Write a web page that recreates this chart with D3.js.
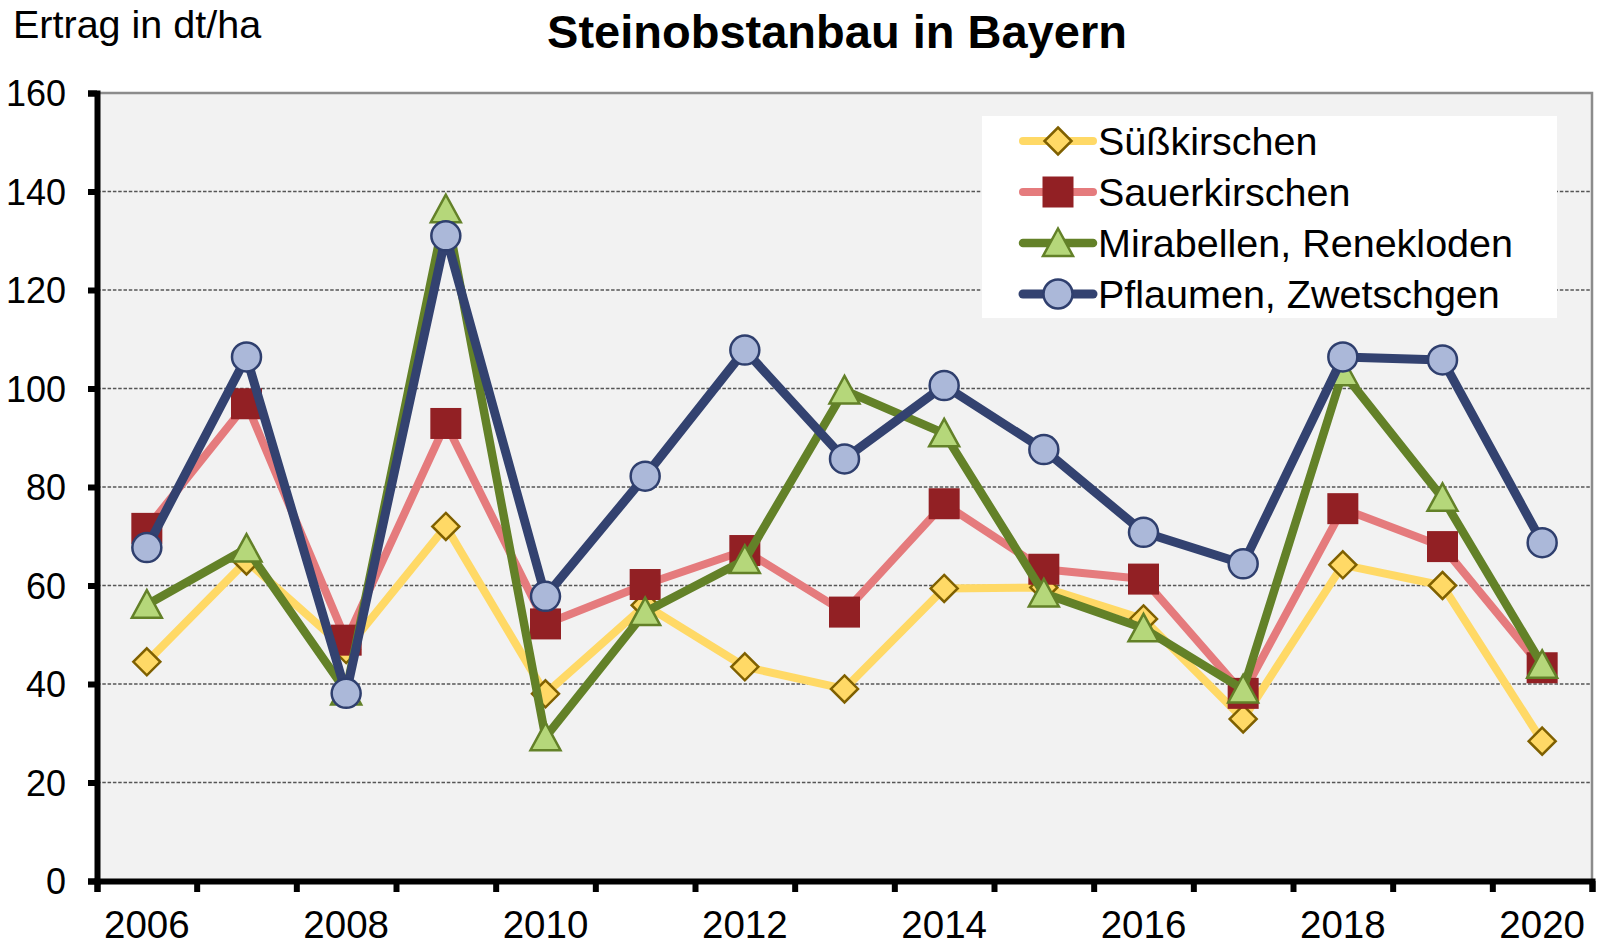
<!DOCTYPE html>
<html>
<head>
<meta charset="utf-8">
<script src="https://cdn.jsdelivr.net/npm/d3@7"></script>
<style>
    body { margin: 0; background: #fff; }
    text { font-family: "Liberation Sans", Arial, sans-serif; fill: #000; }
</style>
</head>
<body>
<div id="chart"></div>
<script>
// values (dt/ha)
const years = d3.range(2006, 2021);

const series = [
    {
        name: 'Süßkirschen',
        line: '#FFD966', fill: '#FFD966', stroke: '#7F6000', shape: 'diamond', lineWidth: 8,
        values: [44.5, 65, 47, 72, 38, 56, 43.5, 39, 59.4, 59.6, 53.2, 32.9, 64.2, 60, 28.4]
    },
    {
        name: 'Sauerkirschen',
        line: '#E57B7D', fill: '#922024', stroke: '#922024', shape: 'square', lineWidth: 8,
        values: [71.6, 96.9, 48.9, 92.9, 52.2, 60.2, 67.1, 54.6, 76.6, 63.3, 61.3, 38.1, 75.6, 67.9, 43.3]
    },
    {
        name: 'Mirabellen, Renekloden',
        line: '#638128', fill: '#B5D77A', stroke: '#638128', shape: 'triangle', lineWidth: 8.5,
        values: [56.1, 67.5, 38.5, 136.4, 29.2, 54.6, 65.2, 99.6, 90.9, 58.4, 51.3, 38.9, 103.3, 77.8, 43.9]
    },
    {
        name: 'Pflaumen, Zwetschgen',
        line: '#334270', fill: '#ABB8D9', stroke: '#2F3F6E', shape: 'circle', lineWidth: 9,
        values: [67.7, 106.4, 38.1, 131, 57.8, 82.2, 107.8, 85.7, 100.6, 87.6, 70.8, 64.4, 106.4, 105.8, 68.7]
    }
];

const margin = { top: 93, right: 7, bottom: 66, left: 97 };
const width = 1599 - margin.left - margin.right,
    height = 947 - margin.top - margin.bottom;

const root = d3.select('#chart').append('svg')
    .attr('width', 1599)
    .attr('height', 947);

const svg = root.append('g')
    .attr('transform', 'translate(' + margin.left + ',' + margin.top + ')');

// scales
const x = d3.scaleBand().domain(years).range([0, width]);
const xEdge = d3.scaleLinear().domain([0, years.length]).range([0, width]);
const y = d3.scaleLinear().domain([0, 160]).range([height, 0]);
const cx = d => x(d) + x.bandwidth() / 2;

// plot area
svg.append('rect')
    .attr('width', width)
    .attr('height', height)
    .style('fill', '#F2F2F2');

// gridlines
svg.selectAll('.grid')
    .data(d3.range(20, 160, 20))
    .enter()
    .append('line')
    .attr('x1', 0)
    .attr('x2', width)
    .attr('y1', d => y(d))
    .attr('y2', d => y(d))
    .style('stroke', '#555')
    .style('stroke-width', 1.3)
    .style('stroke-dasharray', '3.5,1.8');

// top / right border
svg.append('path')
    .attr('d', 'M0,' + y(160) + 'H' + width + 'V' + height)
    .style('fill', 'none')
    .style('stroke', '#8C8C8C')
    .style('stroke-width', 2.5);

// symbols
function drawMarker(sel, s) {
    if (s.shape === 'circle') {
        sel.append('circle').attr('r', 14.5);
    } else if (s.shape === 'square') {
        sel.append('rect').attr('x', -15.5).attr('y', -15.5).attr('width', 31).attr('height', 31);
    } else if (s.shape === 'diamond') {
        sel.append('path').attr('d', 'M0,-13.5L13.5,0L0,13.5L-13.5,0Z');
    } else {
        sel.append('path').attr('d', 'M0,-14.5L15,13L-15,13Z');
    }
    sel.selectAll('*')
        .style('fill', s.fill)
        .style('stroke', s.stroke)
        .style('stroke-width', s.shape === 'square' ? 0 : 2.5)
        .style('stroke-linejoin', 'miter');
}

const line = d3.line()
    .x((d, i) => cx(years[i]))
    .y(d => y(d));

series.forEach(function (s) {
    svg.append('path')
        .datum(s.values)
        .attr('d', line)
        .style('fill', 'none')
        .style('stroke', s.line)
        .style('stroke-width', s.lineWidth)
        .style('stroke-linejoin', 'round');

    svg.selectAll('.m')
        .data(s.values)
        .enter()
        .append('g')
        .attr('transform', (d, i) => 'translate(' + cx(years[i]) + ',' + y(d) + ')')
        .each(function () { drawMarker(d3.select(this), s); });
});

// y axis
const yAxis = svg.append('g')
    .call(d3.axisLeft(y).tickValues(d3.range(0, 161, 20)).tickSize(9).tickPadding(22));
yAxis.select('.domain').style('stroke', '#000').style('stroke-width', 6);
yAxis.selectAll('.tick line').style('stroke', '#000').style('stroke-width', 6);
yAxis.selectAll('text').style('font-size', '36px').attr('dy', '0.36em');

// x axis: tick marks between categories, labels every second year
const xTicks = svg.append('g')
    .attr('transform', 'translate(0,' + height + ')')
    .call(d3.axisBottom(xEdge).tickValues(d3.range(0, years.length + 1)).tickSize(11).tickFormat(''));
xTicks.select('.domain').style('stroke', '#000').style('stroke-width', 6);
xTicks.selectAll('.tick line').style('stroke', '#000').style('stroke-width', 6);

const xLabels = svg.append('g')
    .attr('transform', 'translate(0,' + height + ')')
    .call(d3.axisBottom(x).tickValues(years.filter(d => d % 2 === 0)).tickSize(0).tickPadding(0));
xLabels.select('.domain').remove();
xLabels.selectAll('text').style('font-size', '38.5px').attr('y', 57).attr('dy', null);

// title and unit
root.append('text')
    .attr('x', 837)
    .attr('y', 48)
    .attr('text-anchor', 'middle')
    .style('font-size', '47px')
    .style('font-weight', 'bold')
    .text('Steinobstanbau in Bayern');

root.append('text')
    .attr('x', 13)
    .attr('y', 38)
    .style('font-size', '39.5px')
    .text('Ertrag in dt/ha');

// legend
const legend = root.append('g').attr('transform', 'translate(982,116)');
legend.append('rect')
    .attr('width', 575)
    .attr('height', 202)
    .style('fill', '#fff');

series.forEach(function (s, i) {
    const row = legend.append('g').attr('transform', 'translate(0,' + (25 + i * 51) + ')');
    row.append('line')
        .attr('x1', 41).attr('x2', 111)
        .style('stroke', s.line)
        .style('stroke-width', s.lineWidth)
        .style('stroke-linecap', 'round');
    drawMarker(row.append('g').attr('transform', 'translate(76,0)'), s);
    row.append('text')
        .attr('x', 116)
        .attr('y', 14)
        .style('font-size', '39.5px')
        .text(s.name);
});
</script>
</body>
</html>
